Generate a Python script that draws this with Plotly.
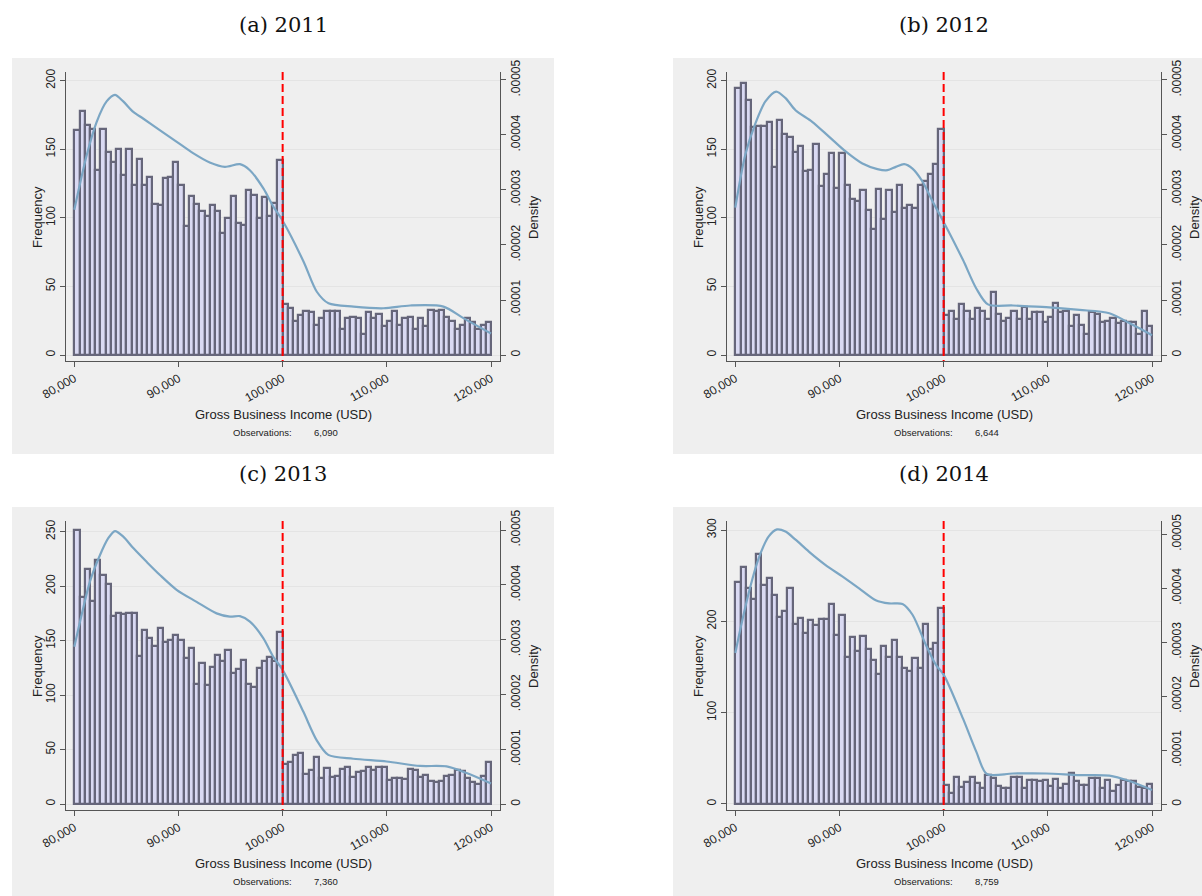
import plotly.graph_objects as go

W, H = 1202, 896

# ---------------- data ----------------
bin_left = list(range(80000, 120000, 500))
BIN_WIDTH = 500

freq_2011 = [164, 178, 168, 165, 135, 165, 148, 141, 150, 131, 150, 124, 143, 124, 130, 110, 109, 129, 130, 141,
             124, 94, 116, 110, 105, 101, 109, 105, 89, 100, 116, 96, 95, 120, 117, 100, 115, 101, 111, 142,
             37, 34, 25, 29, 32, 31, 22, 27, 32, 32, 32, 19, 27, 28, 27, 15, 31, 27, 30, 21,
             25, 32, 22, 27, 28, 19, 27, 21, 33, 32, 33, 28, 25, 19, 22, 27, 24, 19, 22, 24]
freq_2012 = [195, 198, 186, 166, 167, 167, 170, 137, 171, 161, 159, 148, 152, 134, 135, 154, 123, 132, 147, 122,
             147, 124, 114, 112, 120, 106, 92, 121, 99, 120, 104, 124, 107, 109, 107, 124, 127, 132, 139, 165,
             29, 32, 26, 37, 32, 26, 34, 32, 26, 46, 30, 25, 27, 32, 26, 35, 26, 31, 31, 24,
             28, 38, 31, 32, 21, 29, 22, 15, 31, 30, 24, 25, 27, 23, 25, 24, 24, 15, 32, 21]
freq_2013 = [252, 190, 216, 186, 224, 210, 202, 173, 175, 174, 175, 175, 136, 160, 152, 145, 162, 149, 151, 155,
             151, 134, 143, 110, 129, 109, 126, 137, 131, 141, 120, 124, 132, 110, 107, 125, 131, 135, 131, 158,
             37, 39, 45, 47, 28, 31, 43, 24, 33, 25, 26, 32, 34, 25, 29, 30, 34, 31, 34, 34,
             22, 24, 24, 23, 32, 31, 25, 27, 21, 20, 21, 26, 27, 31, 30, 24, 20, 18, 26, 39]
freq_2014 = [243, 259, 237, 224, 274, 240, 247, 229, 205, 211, 236, 197, 204, 187, 202, 196, 203, 203, 219, 185,
             207, 161, 183, 167, 184, 170, 158, 142, 173, 161, 180, 161, 149, 146, 160, 149, 197, 170, 176, 215,
             21, 12, 29, 19, 24, 29, 23, 18, 32, 28, 20, 18, 18, 29, 29, 18, 26, 26, 25, 26,
             20, 27, 17, 22, 34, 25, 21, 21, 28, 28, 18, 26, 14, 21, 26, 25, 25, 19, 18, 22]

dens_x_2011 = [80000, 81200, 82150, 83100, 83900, 84700, 85660, 86600, 88200, 89800, 91400, 93000, 94450, 95900,
               96850, 98150, 99100, 100000, 102000, 103280, 104400, 106800, 109680, 112240, 115440, 117350, 120000]
dens_y_2011 = [2.64e-5, 3.64e-5, 4.24e-5, 4.61e-5, 4.73e-5, 4.61e-5, 4.42e-5, 4.30e-5, 4.09e-5, 3.88e-5, 3.67e-5,
               3.50e-5, 3.42e-5, 3.47e-5, 3.36e-5, 3.03e-5, 2.70e-5, 2.44e-5, 1.70e-5, 1.15e-5, 0.94e-5, 0.88e-5,
               0.85e-5, 0.90e-5, 0.88e-5, 0.67e-5, 0.39e-5]
dens_x_2012 = [80000, 80960, 81930, 82890, 83920, 84820, 85780, 87380, 88990, 90590, 92200, 93640, 94610, 95410,
               96210, 97010, 97980, 98940, 100000, 101850, 103130, 104250, 106650, 109840, 113040, 115910, 117830, 120000]
dens_y_2012 = [2.68e-5, 3.64e-5, 4.21e-5, 4.61e-5, 4.79e-5, 4.67e-5, 4.45e-5, 4.24e-5, 3.97e-5, 3.70e-5, 3.48e-5,
               3.38e-5, 3.36e-5, 3.42e-5, 3.47e-5, 3.39e-5, 3.15e-5, 2.79e-5, 2.42e-5, 1.73e-5, 1.21e-5, 0.92e-5,
               0.90e-5, 0.87e-5, 0.82e-5, 0.76e-5, 0.58e-5, 0.36e-5]
dens_x_2013 = [80000, 80700, 81500, 82460, 83260, 83900, 84700, 85660, 86940, 88220, 89820, 91740, 93660, 94940,
               95900, 96860, 98140, 99100, 100000, 101980, 103260, 104380, 106780, 109980, 113180, 115740, 117660, 120000]
dens_y_2013 = [2.87e-5, 3.45e-5, 4.06e-5, 4.54e-5, 4.85e-5, 4.98e-5, 4.88e-5, 4.67e-5, 4.42e-5, 4.18e-5, 3.91e-5,
               3.69e-5, 3.48e-5, 3.42e-5, 3.43e-5, 3.33e-5, 3.03e-5, 2.69e-5, 2.45e-5, 1.69e-5, 1.17e-5, 0.90e-5,
               0.83e-5, 0.78e-5, 0.70e-5, 0.69e-5, 0.57e-5, 0.38e-5]
dens_x_2014 = [80000, 80640, 81440, 82250, 83210, 84010, 84820, 85780, 87060, 88670, 90270, 91880, 93480, 94770,
               96050, 97010, 98300, 99260, 100000, 101850, 103130, 104150, 106650, 109840, 113040, 115910, 117830, 120000]
dens_y_2014 = [2.80e-5, 3.38e-5, 4.03e-5, 4.56e-5, 4.96e-5, 5.09e-5, 5.05e-5, 4.90e-5, 4.68e-5, 4.43e-5, 4.22e-5,
               4.00e-5, 3.78e-5, 3.72e-5, 3.71e-5, 3.51e-5, 2.95e-5, 2.58e-5, 2.40e-5, 1.59e-5, 0.975e-5, 0.56e-5,
               0.57e-5, 0.57e-5, 0.54e-5, 0.53e-5, 0.43e-5, 0.265e-5]

panel_titles = ["(a) 2011", "(b) 2012", "(c) 2013", "(d) 2014"]
observations = ["6,090", "6,644", "7,360", "8,759"]
freq_tickvals = [[0, 50, 100, 150, 200], [0, 50, 100, 150, 200],
                 [0, 50, 100, 150, 200, 250], [0, 100, 200, 300]]
dens_tickvals = [0, 0.00001, 0.00002, 0.00003, 0.00004, 0.00005]
dens_ticktext = ["0", ".00001", ".00002", ".00003", ".00004", ".00005"]
x_tickvals = [80000, 90000, 100000, 110000, 120000]
x_ticktext = ["80,000", "90,000", "100,000", "110,000", "120,000"]
threshold = 100000

freqs = [freq_2011, freq_2012, freq_2013, freq_2014]
dens_xs = [dens_x_2011, dens_x_2012, dens_x_2013, dens_x_2014]
dens_ys = [dens_y_2011, dens_y_2012, dens_y_2013, dens_y_2014]

# ---------------- layout geometry (pixels) ----------------
x_range = [79203, 120864]
left_ranges = [[-4.37, 206.3], [-4.37, 206.3], [-5.5, 259.8], [-6.6, 309.9]]
right_ranges = [[-1.09e-6, 5.145e-5], [-1.09e-6, 5.145e-5], [-1.04e-6, 5.164e-5], [-1.06e-6, 5.246e-5]]
dx = [0, 661, 0, 661]
dy = [0, 0, 449, 449]
PL, PR, PT, PB = 66, 500, 72, 361          # plot area in panel (a)
BL, BR, BT, BB = 12, 554, 58, 454          # grey panel box in panel (a)

def px(x):
    return x / W

def py(y):
    return 1 - y / H

FONT = "Liberation Sans, Arial, sans-serif"
AXIS_COLOR = "#555555"
TEXT_COLOR = "#222222"
BAR_FILL = "#dadaf3"
BAR_LINE = "#66667a"
KDE_COLOR = "#7ba6c4"

fig = go.Figure()
layout = dict(
    width=W, height=H, autosize=False,
    margin=dict(l=0, r=0, t=0, b=0, pad=0, autoexpand=False),
    paper_bgcolor="white", plot_bgcolor="white", showlegend=False,
    bargap=0, font=dict(family=FONT, color=TEXT_COLOR),
)
shapes = []
annotations = []

for i in range(4):
    xa = "x" if i == 0 else f"x{i + 1}"
    yl = 2 * i + 1
    yr = 2 * i + 2
    yl_name = "y" if yl == 1 else f"y{yl}"
    yr_name = f"y{yr}"
    ox, oy = dx[i], dy[i]

    # grey background box
    shapes.append(dict(type="rect", xref="paper", yref="paper", layer="below",
                       x0=px(BL + ox), x1=px(min(BR + ox, W)), y0=py(min(BB + oy, H)), y1=py(BT + oy),
                       fillcolor="#efefef", line=dict(width=0)))

    fig.add_trace(go.Bar(x=bin_left, y=freqs[i], width=BIN_WIDTH, offset=0,
                         marker=dict(color=BAR_FILL, line=dict(color=BAR_LINE, width=2.2)),
                         xaxis=xa, yaxis=yl_name, hoverinfo="skip"))
    fig.add_trace(go.Scatter(x=dens_xs[i], y=dens_ys[i], mode="lines",
                             line=dict(color=KDE_COLOR, width=2.2, shape="spline", smoothing=0.8),
                             xaxis=xa, yaxis=yr_name, hoverinfo="skip"))

    xdom = [px(PL + ox), px(PR + ox)]
    ydom = [py(PB + oy), py(PT + oy)]
    tickfont = dict(family=FONT, size=12, color=TEXT_COLOR)

    layout["xaxis" if i == 0 else f"xaxis{i + 1}"] = dict(
        domain=xdom, anchor=yl_name, range=x_range, tickvals=x_tickvals, ticktext=x_ticktext,
        tickangle=-30, ticks="outside", ticklen=5, tickcolor=AXIS_COLOR, showline=True,
        linecolor=AXIS_COLOR, linewidth=1, showgrid=False, zeroline=False, tickfont=tickfont,
        automargin=False, fixedrange=True)
    layout["yaxis" if yl == 1 else f"yaxis{yl}"] = dict(
        domain=ydom, anchor=xa, range=left_ranges[i], tickvals=freq_tickvals[i],
        tickangle=-90, ticks="outside", ticklen=5, tickcolor=AXIS_COLOR, showline=True,
        linecolor=AXIS_COLOR, linewidth=1, showgrid=True, gridcolor="#e4e4e4", gridwidth=1,
        zeroline=False, tickfont=tickfont, automargin=False, fixedrange=True)
    layout[f"yaxis{yr}"] = dict(
        overlaying=yl_name, side="right", anchor=xa, range=right_ranges[i],
        tickvals=dens_tickvals, ticktext=dens_ticktext, tickangle=-90, ticks="outside",
        ticklen=5, tickcolor=AXIS_COLOR, showline=True, linecolor=AXIS_COLOR, linewidth=1,
        showgrid=False, zeroline=False, tickfont=tickfont, automargin=False, fixedrange=True)

    # red dashed threshold line
    shapes.append(dict(type="line", xref=xa, yref=f"{yl_name} domain", x0=threshold, x1=threshold,
                       y0=1, y1=0, layer="above", line=dict(color="#ff0000", width=2, dash="8px,4px")))

    # texts
    annotations.append(dict(text=panel_titles[i], xref="paper", yref="paper",
                            x=px(283 + ox), y=py(25 + oy), showarrow=False,
                            font=dict(family="DejaVu Serif, serif", size=21, color="#111111"),
                            xanchor="center", yanchor="middle"))
    annotations.append(dict(text="Frequency", xref="paper", yref="paper", textangle=-90,
                            x=px(37 + ox), y=py(217 + oy), showarrow=False,
                            font=dict(family=FONT, size=13, color=TEXT_COLOR),
                            xanchor="center", yanchor="middle"))
    annotations.append(dict(text="Density", xref="paper", yref="paper", textangle=-90,
                            x=px(533 + ox), y=py(217 + oy), showarrow=False,
                            font=dict(family=FONT, size=13, color=TEXT_COLOR),
                            xanchor="center", yanchor="middle"))
    annotations.append(dict(text="Gross Business Income (USD)", xref="paper", yref="paper",
                            x=px(283 + ox), y=py(414 + oy), showarrow=False,
                            font=dict(family=FONT, size=13, color=TEXT_COLOR),
                            xanchor="center", yanchor="middle"))
    annotations.append(dict(text="Observations:", xref="paper", yref="paper",
                            x=px(294 + ox), y=py(432 + oy), showarrow=False,
                            font=dict(family=FONT, size=9.5, color=TEXT_COLOR),
                            xanchor="right", yanchor="middle"))
    annotations.append(dict(text=observations[i], xref="paper", yref="paper",
                            x=px(312 + ox), y=py(432 + oy), showarrow=False,
                            font=dict(family=FONT, size=9.5, color=TEXT_COLOR),
                            xanchor="left", yanchor="middle"))

layout["shapes"] = shapes
layout["annotations"] = annotations
fig.update_layout(**layout)
fig.write_html("out.html", config={"displayModeBar": False},
               post_script="document.body.style.margin='0';document.body.style.overflow='hidden';")
